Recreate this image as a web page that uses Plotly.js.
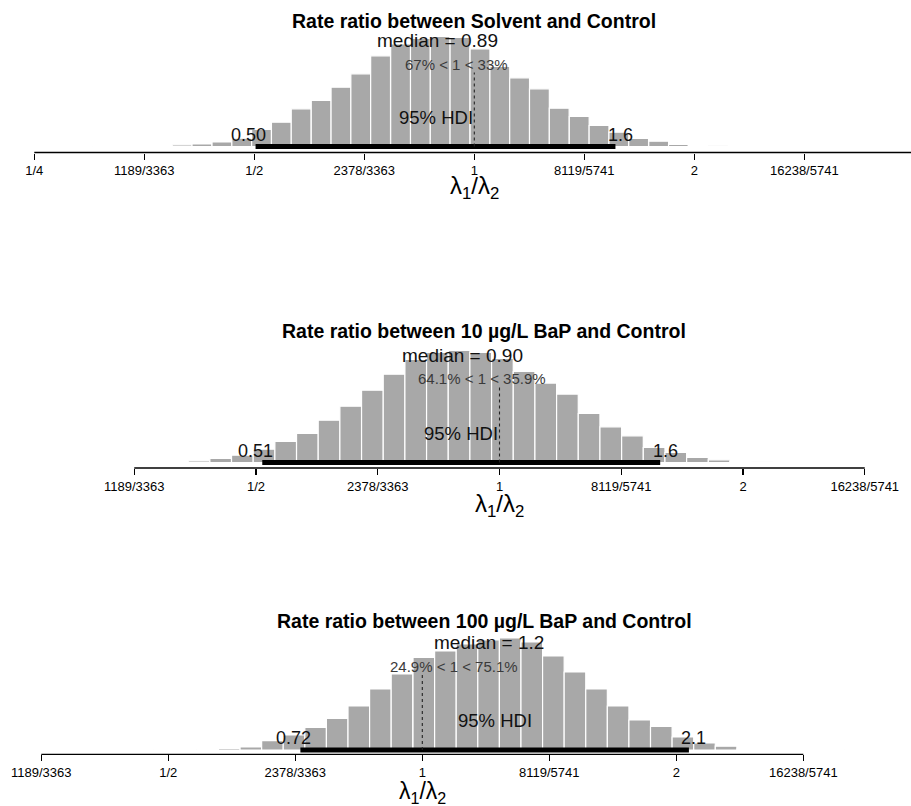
<!DOCTYPE html>
<html><head><meta charset="utf-8">
<script src="https://cdn.plot.ly/plotly-3.0.1.min.js"></script>
<style>html,body{margin:0;padding:0;background:#fff}#chart{width:911px;height:806px}</style>
</head><body><div id="chart"></div>
<script>
// ---------------- data ----------------
const panelTitles = [
  'Rate ratio between Solvent and Control',
  'Rate ratio between 10 µg/L BaP and Control',
  'Rate ratio between 100 µg/L BaP and Control'
];
// tick positions (ratio scale) and their printed labels
const tickRatios = [0.25, 0.35355, 0.5, 0.70711, 1, 1.41421, 2, 2.82843, 4];
const tickLabels = ['1/4', '1189/3363', '1/2', '2378/3363', '1', '8119/5741', '2', '16238/5741', '4'];

// histogram bins: centers in log2(lambda1/lambda2), heights = density (relative)
const binLog2_solvent = [-1.869,-1.779,-1.689,-1.599,-1.508,-1.418,-1.328,-1.238,-1.147,-1.057,-0.967,-0.877,-0.787,-0.696,-0.606,-0.516,-0.426,-0.335,-0.245,-0.155,-0.065,0.026,0.116,0.206,0.296,0.386,0.477,0.567,0.657,0.747,0.838,0.928,1.018,1.108,1.199,1.289,1.379];
const dens_solvent    = [0.3,0.3,0.3,0.4,0.5,0.8,1.7,2.5,4.5,8.3,17,24.3,37.7,46,59.3,72.7,90.7,102.5,108,110,109,97.7,80,68.7,57.7,38.3,30,21,14.3,8,5.3,2,1,0.7,0.5,0.4,0.3];

const binLog2_bap10 = [-1.768,-1.679,-1.590,-1.501,-1.412,-1.323,-1.234,-1.145,-1.056,-0.967,-0.878,-0.789,-0.700,-0.611,-0.522,-0.433,-0.344,-0.255,-0.166,-0.077,0.012,0.101,0.190,0.279,0.368,0.457,0.546,0.635,0.724,0.813,0.902,0.991,1.080,1.169,1.258,1.347,1.436,1.525];
const dens_bap10    = [0.4,0.4,0.4,0.5,0.5,1,1.7,4,7.3,13.3,21,29,42.3,56.3,72.3,88.3,103,110,112,110,104,91,79.4,68.4,49,35.7,26.7,15,10,5,2.7,1,0.6,0.5,0.4,0.4,0.3,0.3];

const binLog2_bap100 = [-1.100,-1.015,-0.930,-0.845,-0.760,-0.675,-0.590,-0.505,-0.420,-0.335,-0.250,-0.165,-0.080,0.006,0.091,0.176,0.261,0.346,0.431,0.516,0.601,0.686,0.771,0.856,0.941,1.026,1.111,1.196,1.281,1.366,1.451,1.536,1.621,1.706];
const dens_bap100    = [0.3,0.4,0.5,0.7,1.7,3,9.3,15,22.5,31.7,44,61,76,92.7,99,106,110,112,108,94,78,61,44,30,23.5,13,7,3.8,1,0.7,0.5,0.4,0.3,0.3];

const binWidthLog2 = [0.0902, 0.0890, 0.0850];

const medians  = [0.89, 0.90, 1.2];
const hdiLow   = [0.502, 0.509, 0.717];
const hdiHigh  = [1.56, 1.58, 2.07];
const compVal  = 1;
const pctBelow = [67, 64.1, 24.9];
const pctAbove = [33, 35.9, 75.1];

// ---------------- layout geometry (pixels) ----------------
const W = 911, H = 806;
const geom = [
  {zero: 474.3, pxPerUnit: 220,   axisY: 152.5, baseY: 146.5, top: 20,  titleX: 473.5, titleBase: 28.3,  lamY: 187.5, lamSize: 24, tickFrom: 0, tickTo: 8},
  {zero: 499.5, pxPerUnit: 243.5, axisY: 468,   baseY: 462.5, top: 336, titleX: 484,   titleBase: 338.3, lamY: 505.5, lamSize: 24, tickFrom: 1, tickTo: 7},
  {zero: 422.3, pxPerUnit: 254,   axisY: 754.3, baseY: 750,   top: 624, titleX: 484,   titleBase: 628.3, lamY: 792,   lamSize: 23, tickFrom: 1, tickTo: 7}
];
const series = [
  {x: binLog2_solvent, y: dens_solvent},
  {x: binLog2_bap10,  y: dens_bap10},
  {x: binLog2_bap100, y: dens_bap100}
];

const FAM = '"Liberation Sans", Arial, Helvetica, sans-serif';
const ctx = document.createElement('canvas').getContext('2d');
function textWidth(s, size, weight) {
  ctx.font = (weight || 'normal') + ' ' + size + 'px "Liberation Sans", Arial, sans-serif';
  return ctx.measureText(s).width;
}
const log2 = v => Math.log(v) / Math.LN2;
const sig2 = v => Number(v).toPrecision(2);

const traces = [], annotations = [], shapes = [];
const layout = {
  width: W, height: H, margin: {l: 0, r: 0, t: 0, b: 0},
  paper_bgcolor: '#fff', plot_bgcolor: 'rgba(0,0,0,0)', showlegend: false,
  font: {family: FAM, color: '#000'}, bargap: 0
};

geom.forEach((g, i) => {
  const n = i === 0 ? '' : String(i + 1);
  const xa = 'x' + n, ya = 'y' + n;
  const s = series[i];
  const maxD = Math.max.apply(null, s.y);

  traces.push({
    type: 'bar', x: s.x, y: s.y, width: binWidthLog2[i], xaxis: xa, yaxis: ya,
    marker: {color: '#a8a8a8', line: {color: '#ffffff', width: 1.2}},
    hoverinfo: 'skip'
  });

  const tv = [], tt = [];
  for (let k = g.tickFrom; k <= g.tickTo; k++) { tv.push(log2(tickRatios[k])); tt.push(tickLabels[k]); }
  const xr = [(0 - g.zero) / g.pxPerUnit, (W - g.zero) / g.pxPerUnit];
  const visV = [], visT = [];
  tv.forEach((v, k) => { if (v >= xr[0] && v <= xr[1]) { visV.push(v); visT.push(tt[k]); } });

  layout['xaxis' + n] = {
    domain: [0, 1], anchor: ya, range: xr,
    tickmode: 'array', tickvals: visV, ticktext: visT,
    ticks: 'outside', ticklen: 6, tickwidth: 1.3, tickcolor: '#000',
    showline: false, zeroline: false, showgrid: false,
    tickfont: {family: FAM, size: 13, color: '#000'}, tickangle: 0,
    ticklabelstandoff: 0, fixedrange: true
  };
  layout['yaxis' + n] = {
    domain: [1 - g.axisY / H, 1 - g.top / H], anchor: xa,
    range: [-(g.axisY - g.baseY), g.baseY - g.top],
    visible: false, showgrid: false, zeroline: false, fixedrange: true
  };

  // axis line between first and last tick
  shapes.push({type: 'line', xref: xa, yref: 'paper',
    x0: tv[0], x1: tv[tv.length - 1], y0: 1 - g.axisY / H, y1: 1 - g.axisY / H,
    line: {color: '#000', width: 1.3}});
  // HDI bar
  shapes.push({type: 'line', xref: xa, yref: ya,
    x0: log2(hdiLow[i]), x1: log2(hdiHigh[i]), y0: 0, y1: 0,
    line: {color: '#000', width: 5}});
  // comparison value line
  shapes.push({type: 'line', xref: xa, yref: ya,
    x0: log2(compVal), x1: log2(compVal), y0: 0, y1: 0.96 * 0.7 * maxD,
    line: {color: '#222', width: 1.1, dash: 'dot'}});

  // title
  const tfs = 19.5;
  annotations.push({xref: 'paper', yref: 'paper', x: g.titleX / W, y: 1 - (g.titleBase - 0.35 * tfs) / H,
    xanchor: 'center', yanchor: 'middle', showarrow: false, text: panelTitles[i],
    font: {family: FAM, size: tfs, weight: 'bold', color: '#000'}});
  // median
  const mfs = 19;
  annotations.push({xref: xa, yref: ya, x: log2(medians[i]), y: 0.9 * maxD, yshift: 0.35 * mfs,
    xanchor: 'center', yanchor: 'middle', showarrow: false,
    text: 'median = ' + sig2(medians[i]), font: {family: FAM, size: mfs, color: '#111'}});
  // comparison text
  const cfs = 15;
  const cvPlain = pctBelow[i] + '% < ' + compVal + ' < ' + pctAbove[i] + '%';
  const cw = textWidth(cvPlain, cfs);
  annotations.push({xref: xa, yref: ya, x: log2(compVal), y: 0.7 * maxD, yshift: 0.35 * cfs,
    xshift: (0.5 - pctBelow[i] / 100) * cw,
    xanchor: 'center', yanchor: 'middle', showarrow: false,
    text: pctBelow[i] + '% &lt; ' + compVal + ' &lt; ' + pctAbove[i] + '%',
    font: {family: FAM, size: cfs, color: '#3a3a3a'}});
  // 95% HDI
  const hfs = 18.5;
  annotations.push({xref: xa, yref: ya, x: (log2(hdiLow[i]) + log2(hdiHigh[i])) / 2, y: 0.205 * maxD, yshift: 0.35 * hfs,
    xanchor: 'center', yanchor: 'middle', showarrow: false,
    text: '95% HDI', font: {family: FAM, size: hfs, color: '#111'}});
  // HDI limits
  const lfs = 18;
  const lowTxt = sig2(hdiLow[i]), highTxt = sig2(hdiHigh[i]);
  annotations.push({xref: xa, yref: ya, x: log2(hdiLow[i]), y: 0.05 * maxD, yshift: 0.35 * lfs,
    xshift: -0.2 * textWidth(lowTxt, lfs), xanchor: 'center', yanchor: 'middle', showarrow: false,
    text: lowTxt, font: {family: FAM, size: lfs, color: '#111'}});
  annotations.push({xref: xa, yref: ya, x: log2(hdiHigh[i]), y: 0.05 * maxD, yshift: 0.35 * lfs,
    xshift: 0.2 * textWidth(highTxt, lfs), xanchor: 'center', yanchor: 'middle', showarrow: false,
    text: highTxt, font: {family: FAM, size: lfs, color: '#111'}});
  // x label
  annotations.push({xref: xa, yref: 'paper', x: log2(compVal), y: 1 - g.lamY / H,
    xanchor: 'center', yanchor: 'middle', showarrow: false,
    text: 'λ<sub>1</sub>/λ<sub>2</sub>', font: {family: FAM, size: g.lamSize, color: '#000'}});
});

layout.annotations = annotations;
layout.shapes = shapes;
Plotly.newPlot('chart', traces, layout, {staticPlot: true, displayModeBar: false});
</script>
</body></html>
